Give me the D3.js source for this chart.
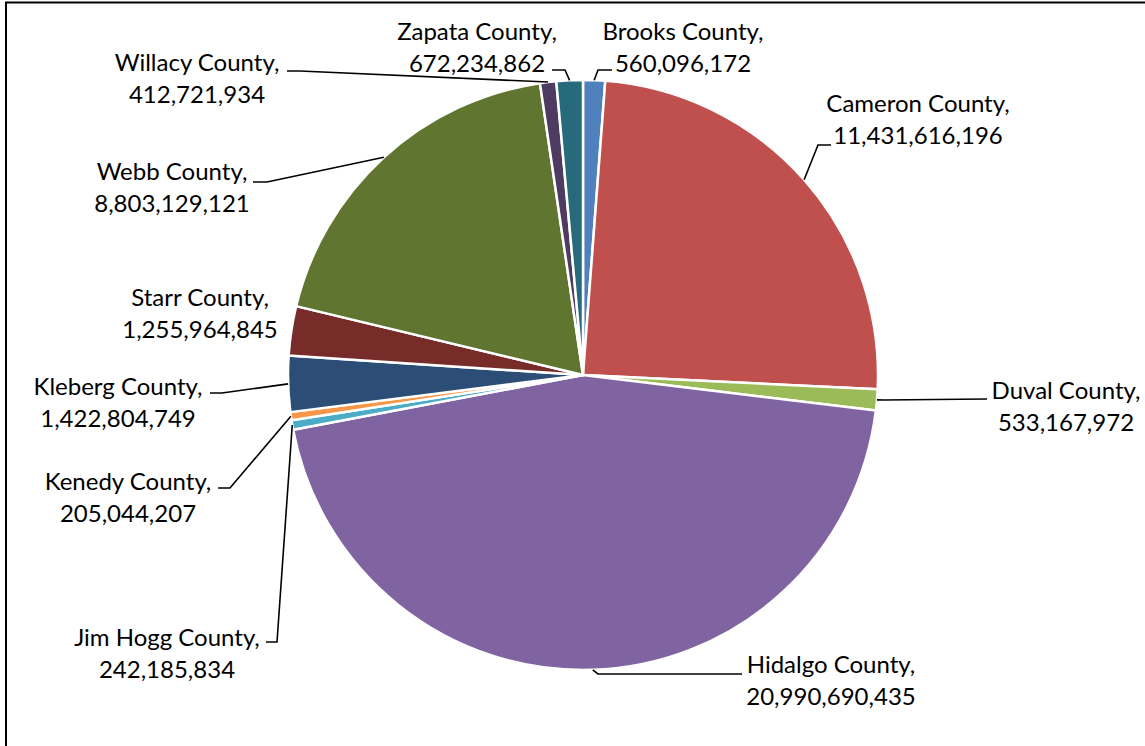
<!DOCTYPE html>
<html>
<head>
<meta charset="utf-8">
<script src="https://cdn.jsdelivr.net/npm/d3@7"></script>
<style>
  html, body { margin: 0; padding: 0; background: #fff; }
  svg { display: block; }
  text { font-family: Lato, "Open Sans", sans-serif; font-size: 24px; fill: #000; }
</style>
</head>
<body>
<svg id="chart" width="1145" height="746"></svg>
<script>
// ---- data ----
const counties = ["Brooks County", "Cameron County", "Duval County", "Hidalgo County",
  "Jim Hogg County", "Kenedy County", "Kleberg County", "Starr County",
  "Webb County", "Willacy County", "Zapata County"];
const values = [560096172, 11431616196, 533167972, 20990690435,
  242185834, 205044207, 1422804749, 1255964845,
  8803129121, 412721934, 672234862];
const colors = ["#4F81BD", "#C0504D", "#9BBB59", "#8064A2",
  "#4BACC6", "#F79646", "#2C4D75", "#772C2A",
  "#5F7530", "#4D3B62", "#276A7C"];

// ---- layout (label placement, leader elbow and end points) ----
const labelLayout = {
  "Brooks County":   { cx: 683,  y1: 32,  elbow: [598, 70],  end: [612, 70] },
  "Cameron County":  { cx: 918,  y1: 104, elbow: [818, 145], end: [831, 145] },
  "Duval County":    { cx: 1066, y1: 391, elbow: [884, 400], end: [987, 399] },
  "Hidalgo County":  { cx: 831,  y1: 665, elbow: [598, 674], end: [742, 674] },
  "Jim Hogg County": { cx: 167,  y1: 638, elbow: [277, 642], end: [266, 642] },
  "Kenedy County":   { cx: 128,  y1: 482, elbow: [230, 488], end: [218, 488] },
  "Kleberg County":  { cx: 118,  y1: 387, elbow: [222, 393], end: [210, 393] },
  "Starr County":    { cx: 200,  y1: 298, elbow: null, end: null },
  "Webb County":     { cx: 172,  y1: 172, elbow: [267, 182], end: [253, 182] },
  "Willacy County":  { cx: 197,  y1: 63,  elbow: [300, 71],  end: [287, 71] },
  "Zapata County":   { cx: 477,  y1: 32,  elbow: [565, 70],  end: [552, 70] }
};

const W = 1145, H = 746;
const cx = 583, cy = 375, R = 295;
const svg = d3.select("#chart");

// frame
svg.append("rect").attr("x", 6).attr("y", 2.5).attr("width", W + 20).attr("height", H + 20)
  .attr("fill", "#fff").attr("stroke", "#000").attr("stroke-width", 2);

const data = counties.map((c, i) => ({ name: c, value: values[i], color: colors[i] }));
const pie = d3.pie().value(d => d.value).sort(null);
const arcs = pie(data);
const arc = d3.arc().innerRadius(0).outerRadius(R);
const outer = d3.arc().innerRadius(R).outerRadius(R);

const g = svg.append("g").attr("transform", `translate(${cx},${cy})`);
g.selectAll("path.slice").data(arcs).join("path")
  .attr("class", "slice")
  .attr("d", arc)
  .attr("fill", d => d.data.color)
  .attr("stroke", "#fff")
  .attr("stroke-width", 2.5)
  .attr("stroke-linejoin", "round");

const fmt = d3.format(",");

// leader lines
arcs.forEach(a => {
  const L = labelLayout[a.data.name];
  if (!L.elbow) return;
  const mid = (a.startAngle + a.endAngle) / 2;
  const sx = cx + R * Math.sin(mid), sy = cy - R * Math.cos(mid);
  svg.append("polyline")
    .attr("points", [[sx, sy], L.elbow, L.end].map(p => p.join(",")).join(" "))
    .attr("fill", "none").attr("stroke", "#000").attr("stroke-width", 1.6);
});

// labels
arcs.forEach(a => {
  const L = labelLayout[a.data.name];
  const t = svg.append("text").attr("text-anchor", "middle");
  t.append("tspan").attr("x", L.cx).attr("y", L.y1).attr("dy", "0.35em").text(a.data.name + ",");
  t.append("tspan").attr("x", L.cx).attr("y", L.y1 + 32).attr("dy", "0.35em").text(fmt(a.data.value));
});
</script>
</body>
</html>
